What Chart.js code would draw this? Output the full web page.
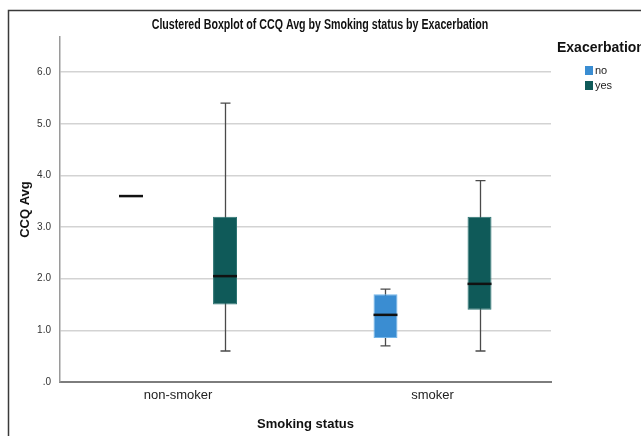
<!DOCTYPE html>
<html>
<head>
<meta charset="utf-8">
<title>Clustered Boxplot</title>
<script src="https://cdn.jsdelivr.net/npm/chart.js@4.4.1/dist/chart.umd.min.js"></script>
<style>
  html, body { margin: 0; padding: 0; background: #fff; }
  #wrap { width: 641px; height: 436px; }
</style>
</head>
<body>
<div id="wrap"><canvas id="boxChart" width="641" height="436"></canvas></div>
<script>
// ==========================================
// 1. DATA
// ==========================================
const categories = ['non-smoker', 'smoker'];
const yTicks = [0, 1, 2, 3, 4, 5, 6];

// Exacerbation = no
const noMin = [3.6, 0.7];
const noQ1 = [3.6, 0.85];
const noMedian = [3.6, 1.3];
const noQ3 = [3.6, 1.7];
const noMax = [3.6, 1.8];

// Exacerbation = yes
const yesMin = [0.6, 0.6];
const yesQ1 = [1.5, 1.4];
const yesMedian = [2.05, 1.9];
const yesQ3 = [3.2, 3.2];
const yesMax = [5.4, 3.9];

const FONT = "'Liberation Sans', Arial, sans-serif";

// boxes sit on a numeric x axis (0, 1) so the group spacing can be tuned
const toBoxes = (q1, q3) => q1.map((q, i) => ({ x: i, y: [q, q3[i]] }));

// ==========================================
// 2. PLUGINS (frame, title, whiskers, medians, legend)
// ==========================================
const framePlugin = {
  id: 'frame',
  beforeDraw(chart) {
    const ctx = chart.ctx;
    ctx.save();
    ctx.fillStyle = '#fff';
    ctx.fillRect(0, 0, chart.width, chart.height);
    ctx.strokeStyle = '#3a3a3a';
    ctx.lineWidth = 1.5;
    ctx.beginPath();
    ctx.moveTo(8.5, chart.height + 5);
    ctx.lineTo(8.5, 10.5);
    ctx.lineTo(chart.width + 5, 10.5);
    ctx.stroke();

    // condensed bold title
    ctx.translate(320, 25);
    ctx.scale(0.76, 1);
    ctx.fillStyle = '#111';
    ctx.font = 'bold 14px ' + FONT;
    ctx.textAlign = 'center';
    ctx.textBaseline = 'middle';
    ctx.fillText('Clustered Boxplot of CCQ Avg by Smoking status by Exacerbation', 0, 0);
    ctx.restore();
  }
};

const boxPlugin = {
  id: 'boxParts',
  // whiskers go behind the boxes
  beforeDatasetsDraw(chart) {
    const ctx = chart.ctx;
    const y = chart.scales.y;
    ctx.save();
    ctx.strokeStyle = '#4a4a4a';
    ctx.lineWidth = 1.3;
    chart.data.datasets.forEach((ds, i) => {
      chart.getDatasetMeta(i).data.forEach((bar, j) => {
        const x = Math.round(bar.x) + 0.5;
        const yMin = y.getPixelForValue(ds.whiskerMin[j]);
        const yMax = y.getPixelForValue(ds.whiskerMax[j]);
        if (Math.abs(yMax - yMin) < 1) return;
        ctx.beginPath();
        ctx.moveTo(x, yMin);
        ctx.lineTo(x, yMax);
        ctx.moveTo(x - 5, yMin);
        ctx.lineTo(x + 5, yMin);
        ctx.moveTo(x - 5, yMax);
        ctx.lineTo(x + 5, yMax);
        ctx.stroke();
      });
    });
    ctx.restore();
  },
  afterDatasetsDraw(chart) {
    const ctx = chart.ctx;
    const y = chart.scales.y;
    ctx.save();
    ctx.strokeStyle = '#111';
    ctx.lineWidth = 2.5;
    chart.data.datasets.forEach((ds, i) => {
      chart.getDatasetMeta(i).data.forEach((bar, j) => {
        const yMed = y.getPixelForValue(ds.median[j]);
        ctx.beginPath();
        ctx.moveTo(bar.x - bar.width / 2, yMed);
        ctx.lineTo(bar.x + bar.width / 2, yMed);
        ctx.stroke();
      });
    });
    ctx.restore();
  }
};

const legendPlugin = {
  id: 'sideLegend',
  afterDraw(chart) {
    const ctx = chart.ctx;
    ctx.save();
    ctx.fillStyle = '#111';
    ctx.font = 'bold 14px ' + FONT;
    ctx.textBaseline = 'middle';
    ctx.fillText('Exacerbation', 557, 48);
    ctx.font = '11px ' + FONT;
    chart.data.datasets.forEach((ds, i) => {
      const top = 66 + i * 15;
      ctx.fillStyle = ds.backgroundColor;
      ctx.fillRect(585, top, 8, 9);
      ctx.fillStyle = '#222';
      ctx.fillText(ds.label, 595, top + 5);
    });
    ctx.restore();
  }
};

// ==========================================
// 3. CHART
// ==========================================
const boxCtx = document.getElementById('boxChart').getContext('2d');
new Chart(boxCtx, {
  type: 'bar',
  data: {
    datasets: [{
      label: 'no',
      data: toBoxes(noQ1, noQ3),
      median: noMedian,
      whiskerMin: noMin,
      whiskerMax: noMax,
      backgroundColor: '#3a8dd2',
      borderColor: '#74b6ea',
      borderWidth: 1,
      borderSkipped: false
    }, {
      label: 'yes',
      data: toBoxes(yesQ1, yesQ3),
      median: yesMedian,
      whiskerMin: yesMin,
      whiskerMax: yesMax,
      backgroundColor: '#0f5a59',
      borderColor: '#2e7573',
      borderWidth: 1,
      borderSkipped: false
    }]
  },
  options: {
    responsive: false,
    animation: false,
    categoryPercentage: 0.739,
    barPercentage: 0.255,
    layout: { padding: { left: 8, right: 90, top: 37, bottom: 0 } },
    plugins: {
      legend: { display: false },
      tooltip: { enabled: false },
      title: { display: false }
    },
    scales: {
      x: {
        type: 'linear',
        offset: false,
        min: -0.4637,
        max: 1.4656,
        grid: { display: false, drawTicks: false, offset: false },
        border: { color: '#7d7d7d', width: 2 },
        ticks: {
          color: '#222',
          font: { family: FONT, size: 13 },
          padding: 6,
          callback: v => categories[v]
        },
        afterBuildTicks(scale) {
          scale.ticks = categories.map((c, i) => ({ value: i }));
        },
        title: {
          display: true,
          text: 'Smoking status',
          color: '#111',
          font: { family: FONT, size: 13, weight: 'bold' },
          padding: { top: 0, bottom: 4 }
        },
        afterFit(scale) { scale.height = 54; }
      },
      y: {
        min: 0,
        max: 6.68,
        grid: { color: '#d3d3d3', lineWidth: 1.5, drawTicks: false },
        border: { color: '#9a9a9a', width: 1.5 },
        ticks: {
          color: '#333',
          font: { family: FONT, size: 10 },
          padding: 9,
          callback: v => (v === 0 ? '.0' : v.toFixed(1))
        },
        afterBuildTicks(scale) {
          scale.ticks = yTicks.map(v => ({ value: v }));
        },
        title: {
          display: true,
          text: 'CCQ Avg',
          color: '#111',
          font: { family: FONT, size: 13, weight: 'bold' },
          padding: { top: 10, bottom: 0 }
        },
        afterFit(scale) { scale.width = 52; }
      }
    }
  },
  plugins: [framePlugin, boxPlugin, legendPlugin]
});
</script>
</body>
</html>
